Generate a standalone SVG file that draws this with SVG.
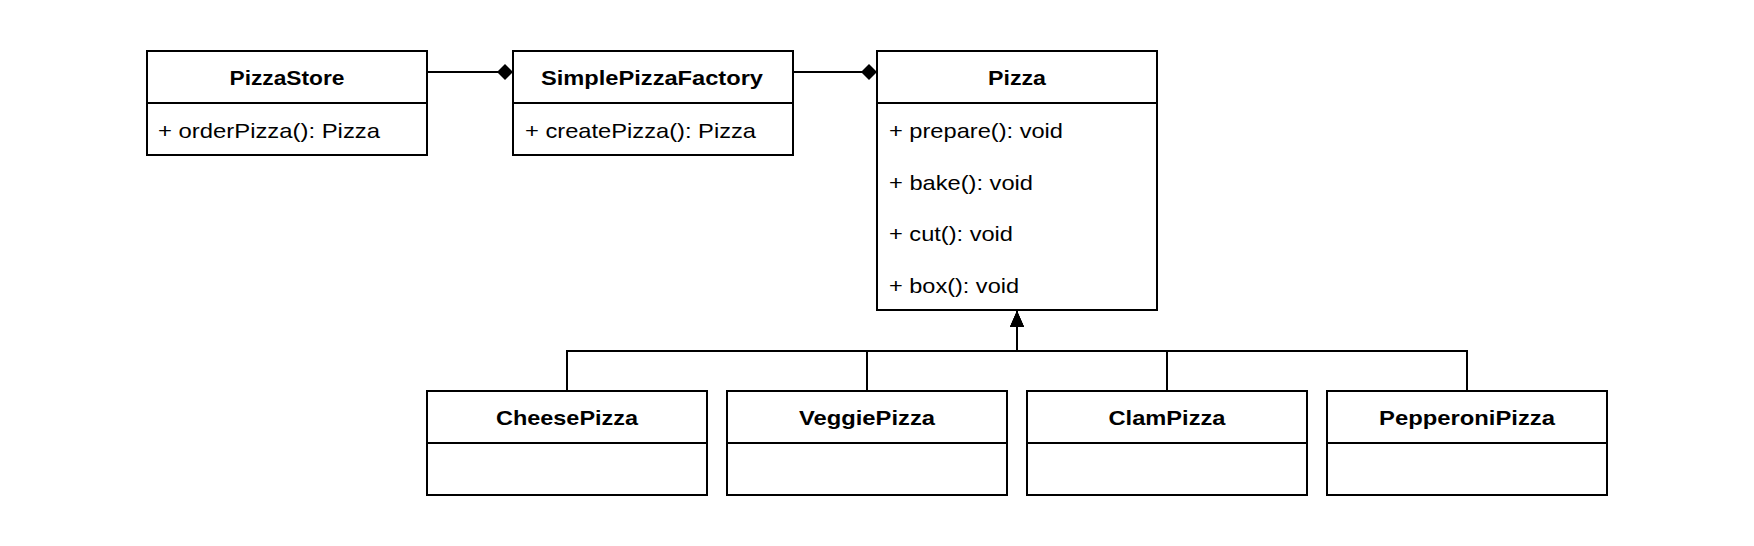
<svg xmlns="http://www.w3.org/2000/svg" width="1754" height="546" viewBox="0 0 1754 546">
<style>
  .box { fill: #ffffff; stroke: #000000; stroke-width: 2; }
  .div { stroke: #000000; stroke-width: 2; }
  .title { font-family: "Liberation Sans", Arial, sans-serif; font-size: 21px; font-weight: bold; fill: #000000; text-anchor: middle; }
  .member { font-family: "Liberation Sans", Arial, sans-serif; font-size: 21px; fill: #000000; }
  .edge { fill: none; stroke: #000000; stroke-width: 2; }
</style>
<defs>
  <marker id="diamond" markerUnits="userSpaceOnUse" markerWidth="17" markerHeight="17" viewBox="0 0 17 17" refX="16" refY="8.5" orient="auto">
    <path d="M0,8.5 L8,0.5 L16,8.5 L8,16.5 Z" fill="#000000"/>
  </marker>
  <marker id="triangle" markerUnits="userSpaceOnUse" markerWidth="17" markerHeight="15" viewBox="0 0 17 15" refX="16" refY="7.5" orient="auto">
    <path d="M0,0.5 L16,7.5 L0,14.5 Z" fill="#000000"/>
  </marker>
</defs>
<rect width="1754" height="546" fill="#ffffff"/>

<g id="connectors">
  <path class="edge" d="M427,72 H513" marker-end="url(#diamond)"/>
  <path class="edge" d="M793,72 H877" marker-end="url(#diamond)"/>
  <path class="edge" d="M567,391 V351 H1017 V311" marker-end="url(#triangle)"/>
  <path class="edge" d="M867,391 V351 H1017 V311" marker-end="url(#triangle)"/>
  <path class="edge" d="M1167,391 V351 H1017 V311" marker-end="url(#triangle)"/>
  <path class="edge" d="M1467,391 V351 H1017 V311" marker-end="url(#triangle)"/>
</g>

<g id="PizzaStore">
  <rect class="box" x="147" y="51" width="280" height="104"/>
  <line class="div" x1="147" y1="103" x2="427" y2="103"/>
  <text class="title" x="287" y="85" textLength="115" lengthAdjust="spacingAndGlyphs">PizzaStore</text>
  <text class="member" x="158" y="137.5" textLength="222" lengthAdjust="spacingAndGlyphs">+ orderPizza(): Pizza</text>
</g>

<g id="SimplePizzaFactory">
  <rect class="box" x="513" y="51" width="280" height="104"/>
  <line class="div" x1="513" y1="103" x2="793" y2="103"/>
  <text class="title" x="652" y="85" textLength="222" lengthAdjust="spacingAndGlyphs">SimplePizzaFactory</text>
  <text class="member" x="525" y="137.5" textLength="231" lengthAdjust="spacingAndGlyphs">+ createPizza(): Pizza</text>
</g>

<g id="Pizza">
  <rect class="box" x="877" y="51" width="280" height="259"/>
  <line class="div" x1="877" y1="103" x2="1157" y2="103"/>
  <text class="title" x="1017" y="85" textLength="58" lengthAdjust="spacingAndGlyphs">Pizza</text>
  <text class="member" x="889" y="137.5" textLength="174" lengthAdjust="spacingAndGlyphs">+ prepare(): void</text>
  <text class="member" x="889" y="189.5" textLength="144" lengthAdjust="spacingAndGlyphs">+ bake(): void</text>
  <text class="member" x="889" y="241" textLength="124" lengthAdjust="spacingAndGlyphs">+ cut(): void</text>
  <text class="member" x="889" y="292.5" textLength="130" lengthAdjust="spacingAndGlyphs">+ box(): void</text>
</g>

<g id="CheesePizza">
  <rect class="box" x="427" y="391" width="280" height="104"/>
  <line class="div" x1="427" y1="443" x2="707" y2="443"/>
  <text class="title" x="567" y="425" textLength="142" lengthAdjust="spacingAndGlyphs">CheesePizza</text>
</g>

<g id="VeggiePizza">
  <rect class="box" x="727" y="391" width="280" height="104"/>
  <line class="div" x1="727" y1="443" x2="1007" y2="443"/>
  <text class="title" x="867" y="425" textLength="136" lengthAdjust="spacingAndGlyphs">VeggiePizza</text>
</g>

<g id="ClamPizza">
  <rect class="box" x="1027" y="391" width="280" height="104"/>
  <line class="div" x1="1027" y1="443" x2="1307" y2="443"/>
  <text class="title" x="1167" y="425" textLength="117" lengthAdjust="spacingAndGlyphs">ClamPizza</text>
</g>

<g id="PepperoniPizza">
  <rect class="box" x="1327" y="391" width="280" height="104"/>
  <line class="div" x1="1327" y1="443" x2="1607" y2="443"/>
  <text class="title" x="1467" y="425" textLength="176" lengthAdjust="spacingAndGlyphs">PepperoniPizza</text>
</g>
</svg>
